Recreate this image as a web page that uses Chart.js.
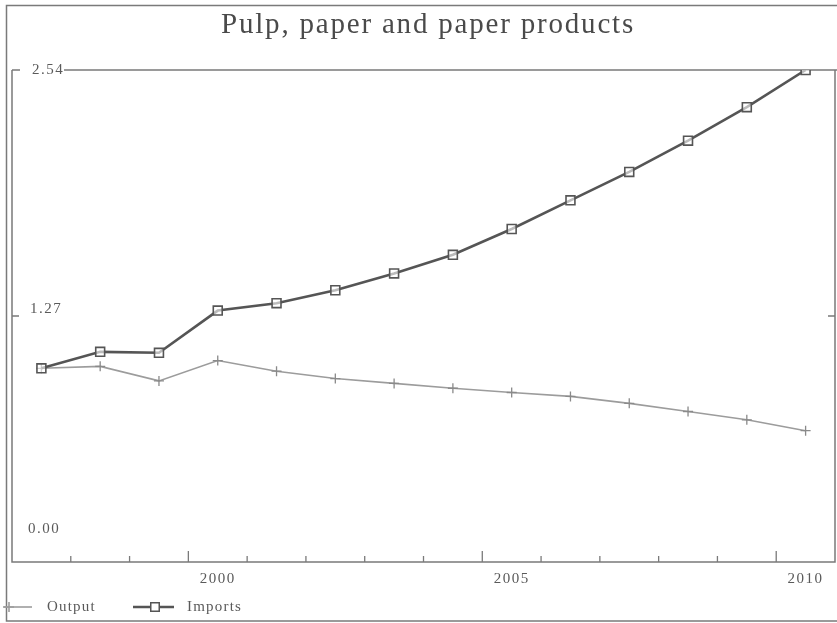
<!DOCTYPE html>
<html>
<head>
<meta charset="utf-8">
<script src="https://cdn.jsdelivr.net/npm/chart.js@4/dist/chart.umd.min.js"></script>
<style>
  html, body { margin: 0; padding: 0; background: #ffffff; }
  #wrap { width: 837px; height: 623px; }
</style>
</head>
<body>
<div id="wrap"><canvas id="chart" width="837" height="623"></canvas></div>
<script>
// Annual index values (first year = 1.00), plotted at mid-year
const years = [1997, 1998, 1999, 2000, 2001, 2002, 2003, 2004, 2005, 2006, 2007, 2008, 2009, 2010];
const outputValues = [1.00, 1.01, 0.935, 1.04, 0.985, 0.947, 0.922, 0.897, 0.875, 0.855, 0.819, 0.777, 0.734, 0.678];
const importValues = [1.00, 1.085, 1.08, 1.298, 1.336, 1.403, 1.49, 1.586, 1.719, 1.867, 2.014, 2.175, 2.348, 2.54];

// Axis annotations
const yTickValues = [0, 1.27, 2.54];
const yTickLabels = ['0.00', '1.27', '2.54'];
const xLabelYears = [2000, 2005, 2010];
const xFirstYear = 1997;
const xLastYear = 2011;

const chartTitle = 'Pulp, paper and paper products';
const seriesNames = ['Output', 'Imports'];

const SERIF = '"Liberation Serif", "DejaVu Serif", serif';
const FRAME = '#7a7a7a';
const TEXT = '#5a5a5a';

const toPoints = vals => years.map((yr, i) => ({ x: yr + 0.5, y: vals[i] }));

// Frame, axes, tick marks, labels, title and legend drawn with the chart's scales
const decorations = {
  id: 'decorations',
  beforeDraw(chart) {
    const ctx = chart.ctx;
    ctx.save();
    ctx.fillStyle = '#ffffff';
    ctx.fillRect(0, 0, chart.width, chart.height);
    ctx.restore();
  },
  beforeDatasetsDraw(chart) {
    const { ctx, chartArea: a, scales: { x, y } } = chart;
    ctx.save();
    ctx.strokeStyle = FRAME;
    ctx.lineWidth = 1.5;

    // outer frame (left, top, bottom)
    ctx.beginPath();
    ctx.moveTo(837, 5.5); ctx.lineTo(6.5, 5.5); ctx.lineTo(6.5, 621); ctx.lineTo(837, 621);
    ctx.stroke();

    // plot box
    ctx.beginPath();
    ctx.moveTo(a.left, a.top); ctx.lineTo(a.left, a.bottom); ctx.lineTo(a.right, a.bottom); ctx.lineTo(a.right, a.top);
    ctx.stroke();

    // y ticks on both sides
    const top = y.getPixelForValue(yTickValues[2]);
    ctx.beginPath();
    ctx.moveTo(a.left, top); ctx.lineTo(a.left + 8, top);
    ctx.moveTo(64, top); ctx.lineTo(837, top);
    const mid = y.getPixelForValue(yTickValues[1]);
    ctx.moveTo(a.left, mid); ctx.lineTo(a.left + 7, mid);
    ctx.moveTo(a.right, mid); ctx.lineTo(a.right - 7, mid);
    ctx.stroke();

    // x ticks at year boundaries, longer at labelled years
    ctx.lineWidth = 1.3;
    ctx.beginPath();
    for (let yr = xFirstYear + 1; yr < xLastYear; yr++) {
      const px = x.getPixelForValue(yr);
      const len = xLabelYears.includes(yr) ? 11 : 6;
      ctx.moveTo(px, a.bottom); ctx.lineTo(px, a.bottom - len);
    }
    ctx.stroke();

    // tick labels
    ctx.fillStyle = TEXT;
    ctx.font = '15px ' + SERIF;
    if ('letterSpacing' in ctx) ctx.letterSpacing = '1.5px';
    ctx.textBaseline = 'middle';
    ctx.textAlign = 'center';
    xLabelYears.forEach(yr => {
      ctx.fillText(String(yr), x.getPixelForValue(yr + 0.5), 579);
    });
    ctx.textAlign = 'left';
    const lift = [33, 7, 0];
    const inset = [16, 18, 20];
    yTickValues.forEach((v, i) => {
      ctx.fillText(yTickLabels[i], a.left + inset[i], y.getPixelForValue(v) - lift[i]);
    });

    // title
    ctx.fillStyle = '#4a4a4a';
    ctx.font = '29px ' + SERIF;
    if ('letterSpacing' in ctx) ctx.letterSpacing = '1.8px';
    ctx.textAlign = 'center';
    ctx.fillText(chartTitle, 428, 25);

    // legend
    const ds = chart.data.datasets;
    const ly = 607;
    ctx.font = '15px ' + SERIF;
    if ('letterSpacing' in ctx) ctx.letterSpacing = '1.2px';
    ctx.textAlign = 'left';
    // Output
    ctx.strokeStyle = ds[0].borderColor;
    ctx.lineWidth = ds[0].borderWidth;
    ctx.beginPath(); ctx.moveTo(3, ly); ctx.lineTo(32, ly); ctx.stroke();
    Chart.helpers.drawPoint(ctx, { pointStyle: 'cross', radius: 5, borderWidth: 1.3 }, 9, ly);
    ctx.fillStyle = TEXT;
    ctx.fillText(seriesNames[0], 47, ly);
    // Imports
    ctx.strokeStyle = ds[1].borderColor;
    ctx.lineWidth = ds[1].borderWidth;
    ctx.beginPath(); ctx.moveTo(133, ly); ctx.lineTo(174, ly); ctx.stroke();
    ctx.lineWidth = 1.5;
    ctx.fillStyle = '#ffffff';
    Chart.helpers.drawPoint(ctx, { pointStyle: 'rect', radius: 6, borderWidth: 1.5 }, 155, ly);
    ctx.fillStyle = TEXT;
    ctx.fillText(seriesNames[1], 187, ly);

    ctx.restore();
  }
};

new Chart(document.getElementById('chart'), {
  type: 'line',
  data: {
    datasets: [
      {
        label: seriesNames[0],
        data: toPoints(outputValues),
        borderColor: '#9c9c9c',
        borderWidth: 1.6,
        pointStyle: 'cross',
        pointRadius: 5,
        pointBorderWidth: 1.3,
        pointBorderColor: '#8a8a8a',
        tension: 0,
        fill: false,
        order: 2
      },
      {
        label: seriesNames[1],
        data: toPoints(importValues),
        borderColor: '#555555',
        borderWidth: 2.6,
        pointStyle: 'rect',
        pointRadius: 6.3,
        pointBorderWidth: 1.6,
        pointBorderColor: '#555555',
        pointBackgroundColor: 'rgba(255,255,255,0.6)',
        tension: 0,
        fill: false,
        order: 1
      }
    ]
  },
  options: {
    responsive: false,
    animation: false,
    devicePixelRatio: 1,
    layout: { autoPadding: false, padding: { left: 12, right: 2, top: 70, bottom: 61 } },
    plugins: {
      legend: { display: false },
      title: { display: false },
      tooltip: { enabled: false }
    },
    scales: {
      x: { type: 'linear', min: xFirstYear, max: xLastYear, display: false },
      y: { type: 'linear', min: 0, max: 2.54, display: false }
    }
  },
  plugins: [decorations]
});
</script>
</body>
</html>
